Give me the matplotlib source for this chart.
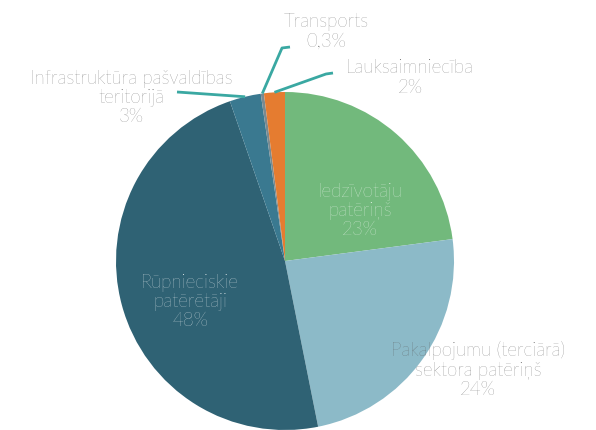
import numpy as np
import matplotlib
matplotlib.use("Agg")
import matplotlib.pyplot as plt

# slice data, clockwise from 12 o'clock
labels = ["Iedzīvotāju\npatēriņš", "Pakalpojumu (terciārā)\nsektora patēriņš",
          "Rūpnieciskie\npatērētāji", "Infrastruktūra pašvaldības\nteritorijā",
          "Transports", "Lauksaimniecība"]
shares = [23, 24, 48, 3, 0.3, 2]
pct_text = ["23%", "24%", "48%", "3%", "0,3%", "2%"]
colors = ["#72b97c", "#8cbac8", "#2f6274", "#3a7990", "#7a8a90", "#e57c30"]

plt.rcParams['font.family'] = ['Lato', 'DejaVu Sans']

W, H = 596, 430
cx, cy, R = 285, 261, 169   # pie centre / radius in pixels

fig = plt.figure(figsize=(W / 100, H / 100), dpi=100)
ax = fig.add_axes([0, 0, 1, 1])

wedges, _ = ax.pie(shares, colors=colors, startangle=90, counterclock=False,
                   wedgeprops=dict(linewidth=0))

ax.set_aspect('auto')
ax.set_xlim(-cx / R, (W - cx) / R)
ax.set_ylim(-(H - cy) / R, cy / R)
ax.axis('off')


def px(x, y):
    # pixel position -> data coords
    return (x - cx) / R, (cy - y) / R


text_grey = "#595959"
line_col = "#3aa8a2"
fs = 13.5
ls = 1.1

# label positions in pixels, and text colour
label_pos = [(360, 211), (478, 370), (190, 302), (131, 98), (326, 32), (410, 78)]
label_col = ["white", text_grey, "white", text_grey, text_grey, text_grey]

for i in range(len(labels)):
    x, y = px(*label_pos[i])
    ax.text(x, y, labels[i] + "\n" + pct_text[i], ha='center', va='center',
            color=label_col[i], fontsize=fs, linespacing=ls, fontweight='light',
            zorder=4)

# leader lines for the small slices: (index, points from label side)
leaders = [
    (3, [(177, 92)]),
    (4, [(290, 47), (282, 48)]),
    (5, [(333, 73), (326, 74)]),
]
for i, pts in leaders:
    w = wedges[i]
    ang = np.deg2rad((w.theta1 + w.theta2) / 2)
    path = [px(*p) for p in pts] + [(np.cos(ang), np.sin(ang))]
    xs, ys = zip(*path)
    ax.plot(xs, ys, color=line_col, lw=2, solid_capstyle='butt', zorder=3)

fig.savefig("out.png", dpi=100)
